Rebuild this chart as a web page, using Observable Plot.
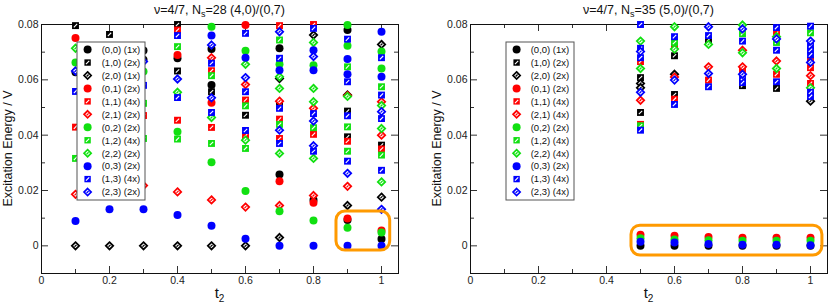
<!DOCTYPE html>
<html><head><meta charset="utf-8">
<script src="https://cdn.jsdelivr.net/npm/d3@7"></script>
<script src="https://cdn.jsdelivr.net/npm/@observablehq/plot@0.6"></script>
<style>
body{margin:0;background:#fff;}
#wrap{display:flex;width:830px;height:307px;}
</style></head><body><div id="wrap"></div>
<script>
// ---- labels & ticks ----
const seriesKeys = ["(0,0)","(1,0)","(2,0)","(0,1)","(1,1)","(2,1)","(0,2)","(1,2)","(2,2)","(0,3)","(1,3)","(2,3)"];
const leftDegeneracy  = ["1x","2x","1x","2x","4x","2x","2x","4x","2x","2x","4x","2x"];
const rightDegeneracy = ["1x","2x","2x","2x","4x","4x","2x","4x","4x","2x","4x","4x"];
const xTicks = [0,0.2,0.4,0.6,0.8,1];
const xMinorTicks = [0.1,0.3,0.5,0.7,0.9];
const yTicks = [0,0.02,0.04,0.06,0.08];
const yMinorTicks = [0.01,0.03,0.05,0.07];
const leftTitle = ["ν=4/7, N","s","=28 (4,0)/(0,7)"];
const rightTitle = ["ν=4/7, N","s","=35 (5,0)/(0,7)"];
const yLabel = "Excitation Energy / V";
const xLabel = ["t","2"];

// ---- left panel: N_s = 28, [t2, energy] ----
const L00 = [[0.1,0.0627],[0.2,0.0685],[0.3,0.0706],[0.3,0.0673],[0.4,0.0678],[0.5,0.0711],[0.5,0.0581],[0.7,0.0714],[0.7,0.0258],[0.8,0.0166],[0.9,0.0780],[0.9,0.0093],[1.0,0.0025]];
const L10 = [[0.1,0.0796],[0.2,0.0764],[0.4,0.0800],[0.4,0.0632],[0.5,0.0557],[0.6,0.0472],[0.7,0.0506],[0.9,0.0487],[0.9,0.0394],[1.0,0.0364]];
const L20 = [[0.1,0],[0.2,0],[0.3,0],[0.4,0],[0.5,0],[0.6,0],[0.7,0.0605],[0.7,0.0030],[0.8,0.0762],[0.9,0.0545],[0.9,0.0146],[1.0,0.0728],[1.0,0.0176]];
const L01 = [[0.1,0.0751],[0.2,0.0720],[0.4,0.0690],[0.5,0.0517],[0.6,0.0798],[0.7,0.0233],[0.8,0.0156],[0.9,0.0099],[1.0,0.0055]];
const L11 = [[0.1,0.0429],[0.2,0.0480],[0.3,0.0471],[0.4,0.0780],[0.4,0.0454],[0.5,0.0633],[0.5,0.0428],[0.6,0.0527],[0.6,0.0398],[0.7,0.0796],[0.7,0.0458],[0.7,0.0388],[0.8,0.0800],[0.8,0.0403],[0.9,0.0378],[1.0,0.0350]];
const L21 = [[0.1,0.0186],[0.2,0.0205],[0.3,0.0218],[0.4,0.0195],[0.5,0.0680],[0.5,0.0166],[0.6,0.0583],[0.6,0.0140],[0.7,0.0523],[0.7,0.0146],[0.8,0.0497],[0.8,0.0182],[0.9,0.0543],[0.9,0.0215],[1.0,0.0521],[1.0,0.0400]];
const L02 = [[0.1,0.0663],[0.2,0.0650],[0.3,0.0630],[0.4,0.0412],[0.5,0.0792],[0.5,0.0302],[0.6,0.0705],[0.6,0.0198],[0.7,0.0656],[0.7,0.0125],[0.8,0.0653],[0.8,0.0092],[0.9,0.0798],[0.9,0.0723],[0.9,0.0065],[1.0,0.0702],[1.0,0.0641],[1.0,0.0048]];
const L12 = [[0.1,0.0316],[0.2,0.0350],[0.3,0.0515],[0.3,0.0388],[0.4,0.0720],[0.4,0.0386],[0.5,0.0615],[0.5,0.0370],[0.6,0.0506],[0.6,0.0352],[0.7,0.0744],[0.7,0.0439],[0.8,0.0427],[0.9,0.0647],[0.9,0.0430],[0.9,0.0342],[1.0,0.0575],[1.0,0.0328]];
const L22 = [[0.1,0.0714],[0.2,0.0600],[0.4,0.0555],[0.5,0.0464],[0.6,0.0656],[0.6,0.0382],[0.7,0.0611],[0.7,0.0569],[0.7,0.0334],[0.8,0.0735],[0.8,0.0569],[0.8,0.0521],[0.8,0.0316],[0.9,0.0540],[1.0,0.0507],[1.0,0.0424],[1.0,0.0231]];
const L03 = [[0.1,0.0090],[0.2,0.0132],[0.3,0.0132],[0.4,0.0111],[0.5,0.0760],[0.5,0.0073],[0.6,0.0680],[0.6,0.0026],[0.7,0.0635],[0.7,0],[0.8,0.0707],[0.8,0.0635],[0.8,0],[0.9,0.0675],[0.9,0.0620],[0.9,0],[1.0,0.0774],[1.0,0.0611],[1.0,0]];
const L13 = [[0.1,0.0558],[0.2,0.0560],[0.3,0.0580],[0.4,0.0760],[0.4,0.0536],[0.5,0.0660],[0.5,0.0482],[0.6,0.0768],[0.6,0.0557],[0.6,0.0417],[0.7,0.0678],[0.7,0.0497],[0.7,0.0370],[0.8,0.0786],[0.8,0.0478],[0.8,0.0342],[0.9,0.0747],[0.9,0.0593],[0.9,0.0470],[0.9,0.0306],[1.0,0.0680],[1.0,0.0545],[1.0,0.0460],[1.0,0.0273]];
const L23 = [[0.1,0.0632],[0.2,0.0620],[0.3,0.0666],[0.4,0.0603],[0.5,0.0726],[0.5,0.0535],[0.6,0.0608],[0.7,0.0774],[0.7,0.0418],[0.8,0.0684],[0.8,0.0451],[0.8,0.0362],[0.9,0.0262],[1.0,0.0485],[1.0,0.0132]];

// ---- right panel: N_s = 35 ----
const R00 = [[0.5,0],[0.6,0],[0.7,0],[0.8,0],[0.9,0],[1.0,0]];
const R10 = [[0.5,0.0608],[0.5,0.0482],[0.6,0.0687],[0.6,0.0547],[0.7,0.0745],[0.8,0.0579],[0.9,0.0569]];
const R20 = [[0.5,0.0587],[0.5,0.0571],[0.6,0.0620],[1.0,0.0523]];
const R01 = [[0.5,0.0040],[0.6,0.0036],[0.7,0.0032],[0.8,0.0029],[0.9,0.0029],[1.0,0.0029]];
const R11 = [[0.5,0.0666],[0.5,0.0439],[0.6,0.0720],[0.6,0.0530],[0.7,0.0599],[0.8,0.0632],[0.9,0.0768],[0.9,0.0620],[1.0,0.0670],[1.0,0.0644],[1.0,0.0587]];
const R21 = [[0.5,0.0526],[0.6,0.0610],[0.7,0.0647],[0.8,0.0707],[0.8,0.0647],[0.9,0.0668],[1.0,0.0615]];
const R02 = [[0.5,0.0027],[0.6,0.0023],[0.7,0.0020],[0.8,0.0018],[0.9,0.0018],[1.0,0.0018]];
const R12 = [[0.5,0.0434],[0.6,0.0735],[0.8,0.0767],[0.9,0.0735],[1.0,0.0770]];
const R22 = [[0.5,0.0740],[0.5,0.0641],[0.6,0.0792],[0.6,0.0711],[0.7,0.0728],[0.8,0.0798],[0.8,0.0698],[0.9,0.0756],[0.9,0.0641],[1.0,0.0571]];
const R03 = [[0.5,0.0015],[0.6,0.0012],[0.7,0.0007],[0.8,0.0004],[0.9,0.0004],[1.0,0.0002]];
const R13 = [[0.5,0.0800],[0.5,0.0714],[0.5,0.0680],[0.5,0.0418],[0.6,0.0756],[0.6,0.0511],[0.7,0.0760],[0.7,0.0575],[0.8,0.0740],[0.8,0.0605],[0.8,0.0590],[0.9,0.0789],[0.9,0.0707],[0.9,0.0593],[1.0,0.0794],[1.0,0.0723],[1.0,0.0707],[1.0,0.0690],[1.0,0.0555],[1.0,0.0540]];
const R23 = [[0.5,0.0702],[0.5,0.0555],[0.6,0.0599],[0.7,0.0792],[0.7,0.0623],[0.8,0.0784],[0.8,0.0620],[0.9,0.0748],[1.0,0.0740],[1.0,0.0663]];

// highlight boxes [t1, t2, e1, e2]
const leftHighlight  = [0.8676, 1.0256, -0.0017, 0.0124];
const rightHighlight = [0.4735, 1.035, -0.0035, 0.0073];

// ---- styling ----
const colors = ["#000000","#ff0000","#11e011","#0000ff"];
const FONT = "'Liberation Sans', Arial, Helvetica, sans-serif";
const slash = {draw(ctx, size){ const r = Math.sqrt(size/Math.PI)*0.7071; ctx.moveTo(-r, r); ctx.lineTo(r, -r); }};

function seriesMarks(series){
  const marks = [];
  series.forEach((pts, i) => {
    const shape = i % 3, color = colors[Math.floor(i/3)];
    const rows = pts.map(([t, e]) => ({t, e}));
    if (shape === 0) {
      marks.push(Plot.dot(rows, {x:"t", y:"e", r:4, fill:color}));
    } else if (shape === 1) {
      marks.push(Plot.dot(rows, {x:"t", y:"e", symbol:"square", r:3.9, fill:color}));
      marks.push(Plot.dot(rows, {x:"t", y:"e", symbol:slash, r:2.4, fill:"none", stroke:"white", strokeWidth:1.1}));
    } else {
      marks.push(Plot.dot(rows, {x:"t", y:"e", symbol:"diamond2", r:3.3, fill:"white", stroke:color, strokeWidth:1.8}));
      marks.push(Plot.dot(rows, {x:"t", y:"e", symbol:slash, r:1.4, fill:"none", stroke:color, strokeWidth:1.3}));
    }
  });
  return marks;
}

function drawLegendSymbol(g, shape, color, cx, cy){
  const tr = `translate(${cx},${cy})`;
  if (shape === 0) {
    g.append("circle").attr("cx", cx).attr("cy", cy).attr("r", 4).attr("fill", color);
  } else if (shape === 1) {
    g.append("path").attr("transform", tr).attr("d", d3.symbol(d3.symbolSquare, Math.PI*3.6*3.6)()).attr("fill", color);
    g.append("path").attr("transform", tr).attr("d", d3.symbol(slash, Math.PI*2.3*2.3)()).attr("stroke", "white").attr("stroke-width", 1.1).attr("fill", "none");
  } else {
    g.append("path").attr("transform", tr).attr("d", d3.symbol(d3.symbolDiamond2, Math.PI*3.2*3.2)()).attr("fill", "white").attr("stroke", color).attr("stroke-width", 1.7);
    g.append("path").attr("transform", tr).attr("d", d3.symbol(slash, Math.PI*1.4*1.4)()).attr("stroke", color).attr("stroke-width", 1.3).attr("fill", "none");
  }
}

function makePanel({series, degeneracy, title, highlight, ml, mr}){
  const W = 415, H = 307, mt = 24, mb = 34;
  const fw = W - ml - mr, fh = H - mt - mb;
  const tk = {stroke:"#333", strokeWidth:1};
  const marks = [
    Plot.tickY(yTicks, {...tk, insetRight: fw - 7}),
    Plot.tickY(yTicks, {...tk, insetLeft: fw - 7}),
    Plot.tickY(yMinorTicks, {...tk, insetRight: fw - 4}),
    Plot.tickY(yMinorTicks, {...tk, insetLeft: fw - 4}),
    Plot.tickX(xTicks, {...tk, insetTop: fh - 7}),
    Plot.tickX(xTicks, {...tk, insetBottom: fh - 7}),
    Plot.tickX(xMinorTicks, {...tk, insetTop: fh - 4}),
    Plot.tickX(xMinorTicks, {...tk, insetBottom: fh - 4}),
    Plot.frame({stroke:"#111", strokeWidth:1}),
    Plot.axisX({ticks: xTicks, tickSize: 0, tickPadding: 3, tickFormat: d3.format("~g"), label: null}),
    Plot.axisY({ticks: yTicks, tickSize: 0, tickPadding: 3, tickFormat: d3.format("~g"), label: null}),
    ...seriesMarks(series),
    Plot.rect([highlight], {x1: d => d[0], x2: d => d[1], y1: d => d[2], y2: d => d[3], rx: 9, fill: "none", stroke: "#ff9a00", strokeWidth: 3})
  ];
  const svgEl = Plot.plot({
    width: W, height: H, marginLeft: ml, marginRight: mr, marginTop: mt, marginBottom: mb,
    x: {domain: [0, 1.05]},
    y: {domain: [-0.01, 0.08]},
    style: {fontFamily: FONT, fontSize: "10.5px", color: "#222", background: "white", overflow: "visible"},
    marks
  });
  const svg = d3.select(svgEl);
  const cx = ml + fw / 2;
  // title
  const tt = svg.append("text").attr("x", cx).attr("y", 13.5).attr("text-anchor", "middle")
    .attr("font-family", FONT).attr("font-size", 12.5).attr("fill", "#111");
  tt.append("tspan").text(title[0]);
  tt.append("tspan").attr("font-size", 9).attr("dy", 3).text(title[1]);
  tt.append("tspan").attr("dy", -3).text(title[2]);
  // x label
  const xl = svg.append("text").attr("x", cx).attr("y", 298).attr("text-anchor", "middle")
    .attr("font-family", FONT).attr("font-size", 15).attr("fill", "#111");
  xl.append("tspan").text(xLabel[0]);
  xl.append("tspan").attr("font-size", 10).attr("dy", 4).text(xLabel[1]);
  // y label
  svg.append("text").attr("transform", `translate(${ml - 29},${mt + fh / 2}) rotate(-90)`)
    .attr("text-anchor", "middle").attr("font-family", FONT).attr("font-size", 12.5).attr("fill", "#111")
    .text(yLabel);
  // legend
  const lx = ml + 36, ly = 42;
  const g = svg.append("g").attr("text-anchor", "start");
  g.append("rect").attr("x", lx).attr("y", ly).attr("width", 68).attr("height", 158)
    .attr("fill", "white").attr("stroke", "#555").attr("stroke-width", 1);
  seriesKeys.forEach((k, i) => {
    const cy = ly + 7.6 + i * 12.95;
    drawLegendSymbol(g, i % 3, colors[Math.floor(i / 3)], lx + 10.6, cy);
    g.append("text").attr("x", lx + 24.7).attr("y", cy).attr("dy", "0.35em").attr("text-anchor", "start")
      .attr("font-family", FONT).attr("font-size", 9.5).attr("fill", "#111")
      .text(`${k} (${degeneracy[i]})`);
  });
  return svgEl;
}

const wrap = document.getElementById("wrap");
wrap.appendChild(makePanel({
  series: [L00, L10, L20, L01, L11, L21, L02, L12, L22, L03, L13, L23],
  degeneracy: leftDegeneracy, title: leftTitle, highlight: leftHighlight, ml: 41, mr: 17
}));
wrap.appendChild(makePanel({
  series: [R00, R10, R20, R01, R11, R21, R02, R12, R22, R03, R13, R23],
  degeneracy: rightDegeneracy, title: rightTitle, highlight: rightHighlight, ml: 55, mr: 3
}));
</script></body></html>
